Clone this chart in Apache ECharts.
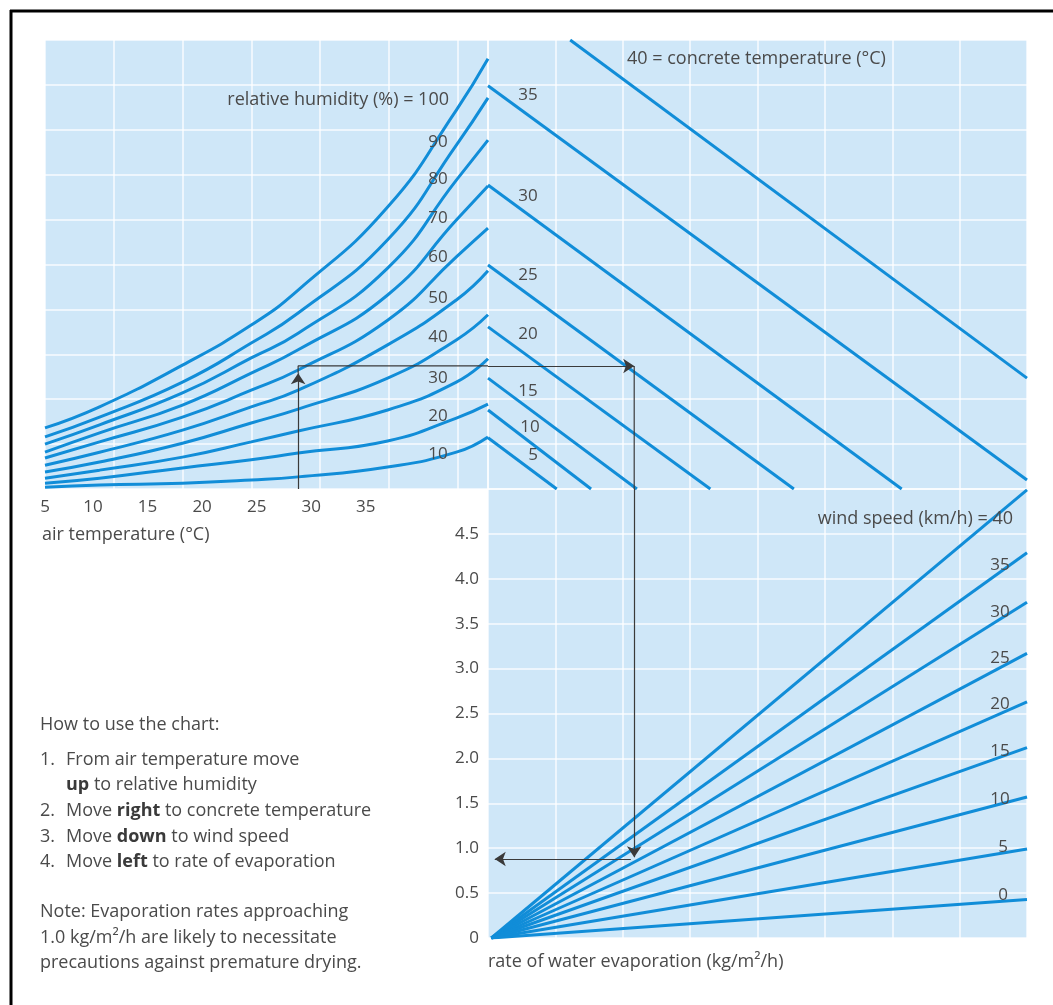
<!DOCTYPE html>
<html>
<head>
<meta charset="utf-8">
<script src="https://cdn.jsdelivr.net/npm/echarts@6/dist/echarts.min.js"></script>
<style>
html,body{margin:0;padding:0;background:#fff;}
#c{width:1053px;height:1005px;}
</style>
</head>
<body>
<div id="c"></div>
<script>
// ---------- DATA ----------
// Air temperature axis (°C)
const tempTicks = [5.6, 10, 15, 20, 25, 30, 35];
const tempTickLabels = ['5', '10', '15', '20', '25', '30', '35'];
// Relative humidity curves: vapour-pressure units (0–10) read at these air temperatures
const airTemps = [5.6, 10.6, 18.2, 24.5, 28.8, 37.0, 43.3, 46.2];
const rhLevels = [100, 90, 80, 70, 60, 50, 40, 30, 20, 10];
const rh100 = [1.36, 1.83, 2.76, 3.65, 4.43, 6.28, 8.44, 9.58];
const rh90  = [1.16, 1.60, 2.38, 3.25, 3.92, 5.55, 7.66, 8.71];
const rh80  = [1.00, 1.43, 2.14, 2.92, 3.47, 4.92, 6.88, 7.77];
const rh70  = [0.82, 1.25, 1.87, 2.58, 3.10, 4.32, 5.99, 6.75];
const rh60  = [0.69, 1.05, 1.60, 2.20, 2.65, 3.76, 5.17, 5.81];
const rh50  = [0.53, 0.82, 1.31, 1.83, 2.20, 3.21, 4.21, 4.86];
const rh40  = [0.38, 0.60, 1.02, 1.47, 1.78, 2.47, 3.32, 3.88];
const rh30  = [0.24, 0.42, 0.71, 1.05, 1.29, 1.76, 2.38, 2.90];
const rh20  = [0.13, 0.24, 0.47, 0.65, 0.80, 1.07, 1.58, 1.89];
const rh10  = [0.04, 0.09, 0.13, 0.20, 0.27, 0.49, 0.82, 1.16];
const rhCurves = [rh100, rh90, rh80, rh70, rh60, rh50, rh40, rh30, rh20, rh10];

// Concrete temperature lines (°C): start / end points (x: 0–8, y: vapour units 0–10)
const concreteTemps  = [40, 35, 30, 25, 20, 15, 10, 5];
const concreteStartX = [1.22, 0, 0, 0, 0, 0, 0, 0];
const concreteStartY = [10.0, 8.98, 6.77, 4.99, 3.61, 2.47, 1.76, 1.14];
const concreteEndX   = [8.0, 8.0, 6.14, 4.54, 3.30, 2.21, 1.53, 1.02];
const concreteEndY   = [2.47, 0.20, 0, 0, 0, 0, 0, 0];

// Wind speed lines (km/h): evaporation rate (kg/m²/h) at origin and at right edge x = 8
const windSpeeds = [40, 35, 30, 25, 20, 15, 10, 5, 0];
const windOriginX = 0.05;
const windEndX = 8;
const windEndRate = [4.99, 4.29, 3.74, 3.17, 2.63, 2.12, 1.57, 0.99, 0.43];

// Evaporation axis ticks
const evapTicks = [0, 0.5, 1.0, 1.5, 2.0, 2.5, 3.0, 3.5, 4.0, 4.5];

// Worked example path
const exAirTemp = 28.8;
const exVapour = 2.74;
const exVapourArrowTip = 2.58;
const exConcreteX = 2.17;
const exEvapRate = 0.88;
const exDownArrowTip = 0.90;
const exLeftStartX = 2.12;
const exLeftTipX = 0.10;

// ---------- STYLE ----------
const BLUE = '#118dd8';
const PANEL = '#cfe7f8';
const GRIDLINE = {show: true, lineStyle: {color: '#ffffff', width: 1.5, opacity: 0.85}};
const TXT = '#4a4a4a';
const FONT = "'Open Sans', 'Noto Sans', sans-serif";

const chart = echarts.init(document.getElementById('c'), null, {renderer: 'canvas'});

const hiddenAxisBase = {
  axisLine: {show: false}, axisTick: {show: false}, axisLabel: {show: false}
};

const series = [];

// RH curves
rhCurves.forEach((vals, i) => {
  series.push({
    type: 'line', name: 'RH ' + rhLevels[i], xAxisIndex: 0, yAxisIndex: 0,
    data: airTemps.map((t, j) => [t, vals[j]]),
    smooth: 0.5, symbol: 'none', silent: true, z: 3,
    lineStyle: {color: BLUE, width: 3}
  });
});

// Concrete temperature lines
concreteTemps.forEach((c, i) => {
  series.push({
    type: 'line', name: 'Concrete ' + c, xAxisIndex: 2, yAxisIndex: 1,
    data: [[concreteStartX[i], concreteStartY[i]], [concreteEndX[i], concreteEndY[i]]],
    symbol: 'none', silent: true, z: 3,
    lineStyle: {color: BLUE, width: 3}
  });
});

// Wind lines
windSpeeds.forEach((w, i) => {
  series.push({
    type: 'line', name: 'Wind ' + w, xAxisIndex: 3, yAxisIndex: 2,
    data: [[windOriginX, 0], [windEndX, windEndRate[i]]],
    symbol: 'none', silent: true, z: 3,
    lineStyle: {color: BLUE, width: 3}
  });
});

// Example path (plain segments)
const pathStyle = {color: '#3a3a3a', width: 1.2};
series.push({
  type: 'line', xAxisIndex: 0, yAxisIndex: 0, symbol: 'none', silent: true, z: 6,
  data: [[exAirTemp, exVapourArrowTip], [exAirTemp, exVapour], [46.2, exVapour]],
  lineStyle: pathStyle
});
series.push({
  type: 'line', xAxisIndex: 2, yAxisIndex: 1, symbol: 'none', silent: true, z: 6,
  data: [[exConcreteX, exVapour], [exConcreteX, 0]],
  lineStyle: pathStyle
});
// Example path (arrow segments)
const arrowBase = {
  type: 'lines', coordinateSystem: 'cartesian2d', symbol: ['none', 'arrow'],
  symbolSize: [6, 11], silent: true, z: 7,
  lineStyle: {color: '#3a3a3a', width: 1.2, opacity: 1}
};
series.push(Object.assign({}, arrowBase, {
  xAxisIndex: 0, yAxisIndex: 0,
  data: [{coords: [[exAirTemp, 0], [exAirTemp, exVapourArrowTip]]}]
}));
series.push(Object.assign({}, arrowBase, {
  xAxisIndex: 2, yAxisIndex: 1,
  data: [{coords: [[0, exVapour], [exConcreteX, exVapour]]}]
}));
series.push(Object.assign({}, arrowBase, {
  xAxisIndex: 3, yAxisIndex: 2,
  data: [{coords: [[exConcreteX, 5], [exConcreteX, exDownArrowTip]]},
         {coords: [[exLeftStartX, exEvapRate], [exLeftTipX, exEvapRate]]}]
}));

// ---------- TEXT ----------
const BIG = '18px ' + FONT;
const NUM = '17px ' + FONT;
function txt(x, y, s, opt) {
  return {
    type: 'text', x: x, y: y, silent: true, z: 20,
    style: Object.assign({text: s, font: BIG, fill: TXT,
      textAlign: 'left', textVerticalAlign: 'middle'}, opt || {})
  };
}
function richTxt(x, y, s) {
  return {type: 'text', x: x, y: y, silent: true, z: 20, style: {
    text: s, font: BIG, fill: TXT, textVerticalAlign: 'middle',
    rich: {b: {fontWeight: 'bold', fontSize: 18, fontFamily: FONT, fill: '#3a3a3a'}}}};
}
const graphics = [
  {type: 'line', shape: {x1: 11, y1: 10, x2: 11, y2: 1005}, style: {stroke: '#000', lineWidth: 3}, z: 30, silent: true},
  {type: 'line', shape: {x1: 10, y1: 11, x2: 1053, y2: 11}, style: {stroke: '#000', lineWidth: 3}, z: 30, silent: true},

  txt(42, 535, 'air temperature (°C)'),
  txt(488, 962, 'rate of water evaporation (kg/m²/h)'),

  txt(449, 100, 'relative humidity (%) = 100', {textAlign: 'right'}),
  txt(627, 59, '40 = concrete temperature (°C)'),
  txt(1013, 519, 'wind speed (km/h) = 40', {textAlign: 'right'}),

  txt(40, 725, 'How to use the chart:'),
  txt(40, 760, '1.'), txt(66, 760, 'From air temperature move'),
  richTxt(66, 785, '{b|up} to relative humidity'),
  txt(40, 811, '2.'), richTxt(66, 811, 'Move {b|right} to concrete temperature'),
  txt(40, 837, '3.'), richTxt(66, 837, 'Move {b|down} to wind speed'),
  txt(40, 862, '4.'), richTxt(66, 862, 'Move {b|left} to rate of evaporation'),
  txt(40, 912, 'Note: Evaporation rates approaching'),
  txt(40, 938, '1.0 kg/m²/h are likely to necessitate'),
  txt(40, 963, 'precautions against premature drying.')
];
// RH numeric labels
const rhLabelY = [142, 179, 218, 257, 298, 337, 378, 416, 454];
rhLevels.slice(1).forEach((r, i) => graphics.push(txt(438, rhLabelY[i], String(r), {textAlign: 'center', font: NUM})));
// Concrete numeric labels
const concLabelPos = [[528, 95], [528, 196], [528, 275], [528, 334], [528, 391], [530, 427], [533, 455]];
concreteTemps.slice(1).forEach((c, i) => graphics.push(txt(concLabelPos[i][0], concLabelPos[i][1], String(c), {textAlign: 'center', font: NUM})));
// Wind numeric labels
const windLabelPos = [[1000, 565], [1000, 612], [1000, 658], [1000, 704], [1000, 751], [1000, 799], [1003, 847], [1003, 895]];
windSpeeds.slice(1).forEach((w, i) => graphics.push(txt(windLabelPos[i][0], windLabelPos[i][1], String(w), {textAlign: 'center', font: NUM})));

const option = {
  animation: false,
  backgroundColor: '#ffffff',
  grid: [
    {left: 45, top: 40, width: 443, height: 449, show: true, backgroundColor: PANEL, borderWidth: 0, containLabel: false},
    {left: 488, top: 40, width: 539, height: 449, show: true, backgroundColor: PANEL, borderWidth: 0, containLabel: false},
    {left: 488, top: 489, width: 539, height: 449, show: true, backgroundColor: PANEL, borderWidth: 0, containLabel: false}
  ],
  xAxis: [
    { // 0: air temperature
      type: 'value', gridIndex: 0, min: 5.6, max: 46.2, position: 'bottom',
      axisLine: {show: false}, axisTick: {show: false}, splitLine: {show: false},
      axisLabel: {
        customValues: tempTicks, margin: 10, color: TXT, fontSize: 17, fontFamily: FONT,
        formatter: function (v) {
          let best = 0;
          tempTicks.forEach((t, i) => { if (Math.abs(t - v) < Math.abs(tempTicks[best] - v)) best = i; });
          return tempTickLabels[best];
        }
      }
    },
    Object.assign({type: 'value', gridIndex: 0, min: 0, max: 6.44, interval: 1, position: 'top', splitLine: GRIDLINE}, hiddenAxisBase),
    Object.assign({type: 'value', gridIndex: 1, min: 0, max: 8, interval: 1, splitLine: GRIDLINE}, hiddenAxisBase),
    Object.assign({type: 'value', gridIndex: 2, min: 0, max: 8, interval: 1, splitLine: GRIDLINE}, hiddenAxisBase)
  ],
  yAxis: [
    Object.assign({type: 'value', gridIndex: 0, min: 0, max: 10, interval: 1, splitLine: GRIDLINE}, hiddenAxisBase),
    Object.assign({type: 'value', gridIndex: 1, min: 0, max: 10, interval: 1, splitLine: GRIDLINE}, hiddenAxisBase),
    {
      type: 'value', gridIndex: 2, min: 0, max: 5, interval: 0.5,
      axisLine: {show: false}, axisTick: {show: false}, splitLine: GRIDLINE,
      axisLabel: {
        customValues: evapTicks, margin: 9, color: TXT, fontSize: 17, fontFamily: FONT,
        formatter: function (v) { return Math.abs(v) < 1e-9 ? '0' : v.toFixed(1); }
      }
    }
  ],
  series: series,
  graphic: graphics
};
chart.setOption(option);
</script>
</body>
</html>
